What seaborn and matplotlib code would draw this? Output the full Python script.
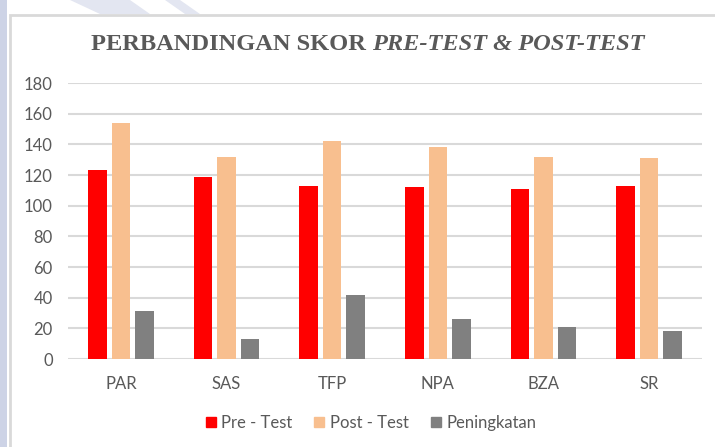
import matplotlib.pyplot as plt
import matplotlib.patches as mpatches
import seaborn as sns
import pandas as pd

# data
kategori = ['PAR', 'SAS', 'TFP', 'NPA', 'BZA', 'SR']
pre_test = [123, 119, 113, 112, 111, 113]
post_test = [154, 132, 142, 138, 132, 131]
peningkatan = [31, 13, 42, 26, 21, 18]
seri = ['Pre - Test', 'Post - Test', 'Peningkatan']
warna = ['#FF0000', '#F8BF8F', '#808080']

df = pd.DataFrame({'kategori': kategori * 3,
                   'seri': [seri[0]] * 6 + [seri[1]] * 6 + [seri[2]] * 6,
                   'skor': pre_test + post_test + peningkatan})

sns.set_style('white')
plt.rcParams['font.family'] = ['Lato', 'DejaVu Sans']

fig = plt.figure(figsize=(7.15, 4.47), dpi=100)
ax = fig.add_axes([68 / 715, 1 - 359 / 447, 634 / 715, 276 / 447])

# chart frame + watermark stripe
fig.patches.append(mpatches.Rectangle((10 / 715, -0.1), 1.2, 1 - 15 / 447 + 0.1,
                                      transform=fig.transFigure, fill=False,
                                      edgecolor='#D9D9D9', linewidth=2))
fig.patches.append(mpatches.Rectangle((0, 0), 7 / 715, 1, transform=fig.transFigure,
                                      facecolor='#CDD3E6', edgecolor='none'))
fig.patches.append(mpatches.Polygon([(70 / 715, 1), (130 / 715, 1), (150 / 715, 1 - 14 / 447),
                                     (100 / 715, 1 - 14 / 447)], transform=fig.transFigure,
                                    facecolor='#E3E6F1', edgecolor='none'))
fig.patches.append(mpatches.Polygon([(165 / 715, 1), (180 / 715, 1), (200 / 715, 1 - 14 / 447),
                                     (185 / 715, 1 - 14 / 447)], transform=fig.transFigure,
                                    facecolor='#E3E6F1', edgecolor='none'))

sns.barplot(data=df, x='kategori', y='skor', hue='seri', palette=warna,
            width=0.667, gap=0.21, ax=ax, legend=False, saturation=1, linewidth=0)

ax.set_ylim(0, 180)
ax.set_xlim(-0.5, 5.5)
ax.set_yticks(range(0, 181, 20))
ax.yaxis.grid(True, color='#D9D9D9', linewidth=1.5)
ax.set_axisbelow(True)
for s in ['top', 'right', 'left', 'bottom']:
    ax.spines[s].set_visible(False)
ax.set_xlabel('')
ax.set_ylabel('')
ax.tick_params(axis='both', length=0, labelsize=12, labelcolor='#595959')
ax.tick_params(axis='y', pad=11)
ax.tick_params(axis='x', pad=12)

# legend
handles = [mpatches.Patch(color=c, label=l) for c, l in zip(warna, seri)]
fig.legend(handles=handles, loc='center', bbox_to_anchor=(371 / 715, 1 - 423 / 447),
           ncol=3, frameon=False, fontsize=12, labelcolor='#595959',
           handlelength=0.6, handleheight=0.6, handletextpad=0.35, columnspacing=1.3)

# title with mixed bold / bold-italic
judul1 = 'PERBANDINGAN SKOR '
judul2 = 'PRE-TEST & POST-TEST'
fnt = dict(family='Liberation Serif', weight='bold', size=17.6, color='#595959')
t1 = fig.text(0, 1 - 45 / 447, judul1, va='center', ha='left', **fnt)
t2 = fig.text(0, 1 - 45 / 447, judul2, va='center', ha='left', style='italic', **fnt)
fig.canvas.draw()
r = fig.canvas.get_renderer()
w1 = t1.get_window_extent(r).width
w2 = t2.get_window_extent(r).width
x0 = 368 - (w1 + w2) / 2
t1.set_x(x0 / 715)
t2.set_x((x0 + w1) / 715)

plt.savefig('out.png', dpi=100)
plt.close()
